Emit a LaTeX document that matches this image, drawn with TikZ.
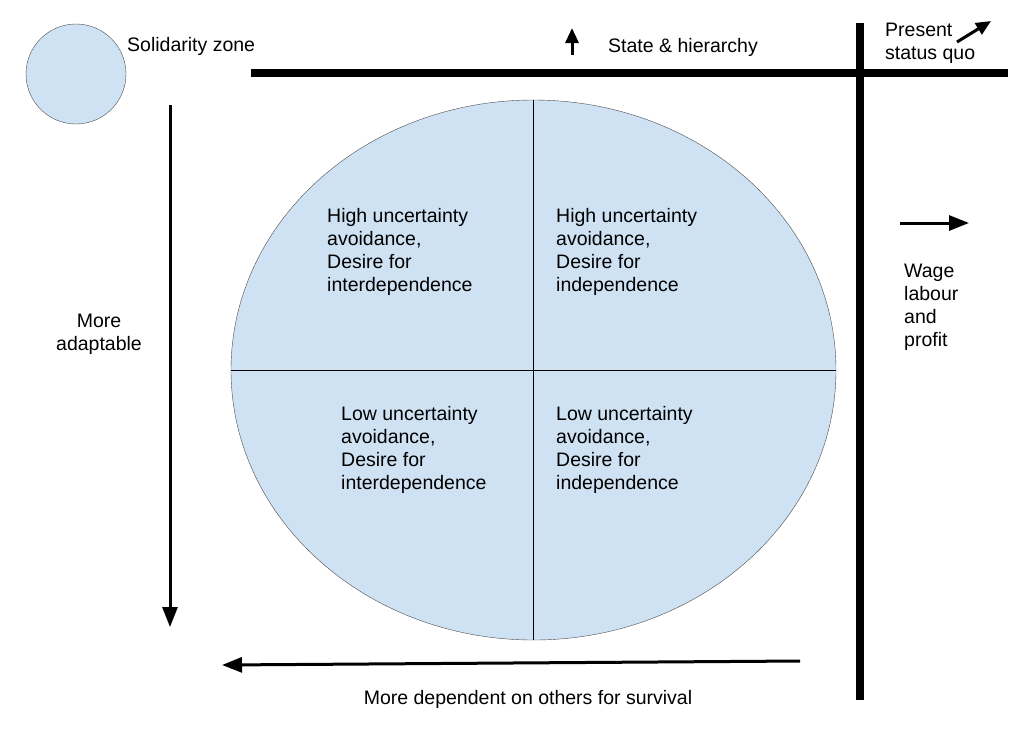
\documentclass[tikz,border=0pt]{standalone}
\usepackage{fontspec}
\setmainfont{Liberation Sans}
\usetikzlibrary{positioning}
\usetikzlibrary{shapes.geometric}
\usetikzlibrary{arrows.meta}
\definecolor{paleblue}{HTML}{CFE2F3}

\begin{document}
\begin{tikzpicture}[x=1pt, y=-1pt, >={Triangle[length=20pt, width=15pt]},
  zone/.style={circle, draw=black!70, fill=paleblue, minimum size=100pt, inner sep=0pt},
  oval/.style={ellipse, draw=black!70, fill=paleblue, minimum width=605pt, minimum height=540pt, inner sep=0pt},
  txt/.style={align=left, inner sep=0pt, font=\fontsize{19.5}{23}\selectfont},
  axis/.style={line width=8pt},
  bigarrow/.style={->, line width=3pt},
  smallarrow/.style={-{Triangle[length=15pt, width=13pt]}, line width=3pt}]

  \useasboundingbox (0,0) rectangle (1024,732);

  % zone and quadrants
  \node[zone] (zone) at (76,74) {};
  \node[txt, anchor=west] (zonetext) at (127,46) {Solidarity zone};
  \node[oval] (oval) at (533.5,370) {};
  \draw[line width=1pt] (oval.north) -- (oval.south);
  \draw[line width=1pt] (oval.west) -- (oval.east);

  \node[txt, anchor=west] (tl) at (327,251.5) {High uncertainty\\avoidance,\\Desire for\\interdependence};
  \node[txt, anchor=west] (tr) at (556,251.5) {High uncertainty\\avoidance,\\Desire for\\independence};
  \node[txt, anchor=west] (bl) at (341,449.5) {Low uncertainty\\avoidance,\\Desire for\\interdependence};
  \node[txt, anchor=west] (br) at (556,449.5) {Low uncertainty\\avoidance,\\Desire for\\independence};

  % thick axes
  \coordinate (hstart) at (251,73);
  \coordinate (hend) at (1008,73);
  \coordinate (vstart) at (860,23);
  \coordinate (vend) at (860,700);
  \draw[axis] (hstart) -- (hend);
  \draw[axis] (vstart) -- (vend);

  % direction labels
  \node[txt] (state) at (683,47) {State \& hierarchy};
  \node[txt, anchor=west] (present) at (885,43.5) {Present\\status quo};
  \node[txt, align=center] (adapt) at (99,334) {More\\adaptable};
  \node[txt, anchor=west] (wage) at (904,307) {Wage\\labour\\and\\profit};
  \node[txt] (depend) at (528,699) {More dependent on others for survival};

  \coordinate (upfrom) at (572,55);
  \coordinate (upto) at (572,28);
  \coordinate (diagfrom) at (957,42);
  \coordinate (diagto) at (991,21);
  \coordinate (downfrom) at (170,105);
  \coordinate (downto) at (170,627);
  \coordinate (rightfrom) at (900,223);
  \coordinate (rightto) at (969,223);
  \coordinate (leftfrom) at (800,661);
  \coordinate (leftto) at (222,665);

  \path
    (upfrom) edge[smallarrow] (upto)
    (diagfrom) edge[smallarrow] (diagto)
    (downfrom) edge[bigarrow] (downto)
    (rightfrom) edge[bigarrow] (rightto)
    (leftfrom) edge[bigarrow] (leftto)
  ;
\end{tikzpicture}
\end{document}
